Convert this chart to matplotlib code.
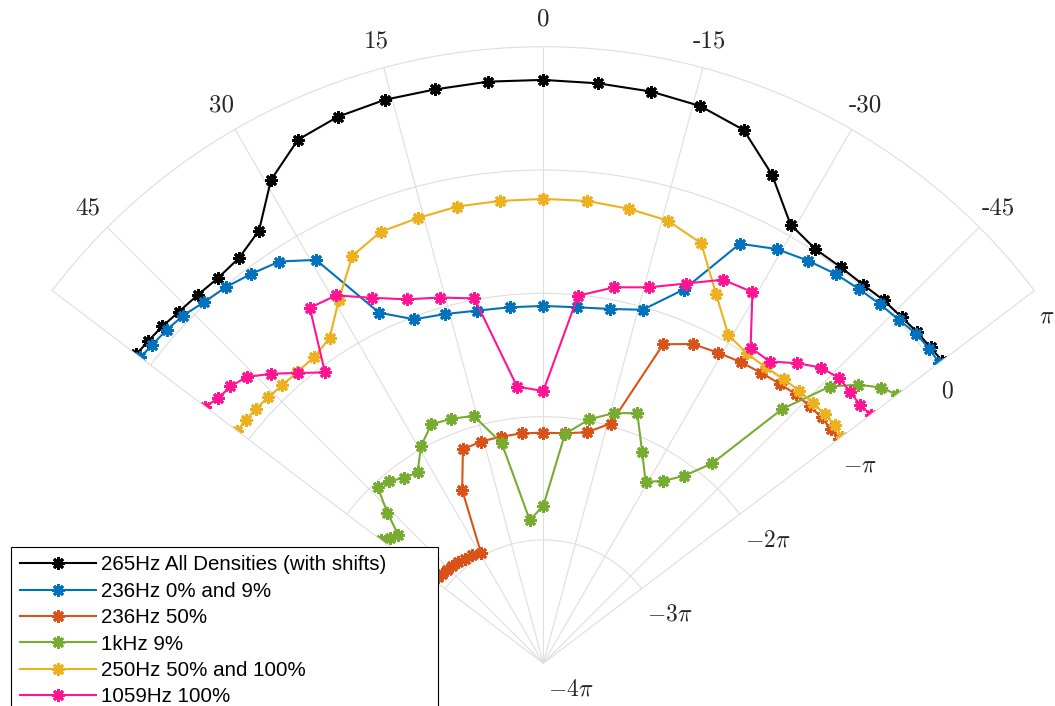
import numpy as np
import matplotlib.pyplot as plt
from matplotlib.transforms import offset_copy

plt.rcParams['mathtext.fontset'] = 'cm'
plt.rcParams['axes.unicode_minus'] = False

# Ángulos de medida (grados), de izquierda a derecha
angulos = [52.8, 50.8, 48.5, 46.0, 43.2, 40.2, 36.9, 33.3, 29.4, 25.1, 20.6, 15.7, 10.7, 5.4, 0.0,
           -5.4, -10.7, -15.7, -20.6, -25.1, -29.4, -33.3, -36.9, -40.2, -43.2, -46.0, -48.5, -50.8, -52.8]

# Fases (en múltiplos de pi)
fase_265 = [0.143, 0.135, 0.124, 0.106, 0.096, 0.089, 0.110, 0.199, 0.499, 0.689, 0.735, 0.747, 0.736, 0.738,
            0.731, 0.724, 0.718, 0.695, 0.620, 0.374, 0.084, 0.019, 0.017, 0.019, 0.036, 0.040, 0.050, 0.052, 0.060]
fase_236_0_9 = [0.102, 0.090, 0.079, 0.060, 0.018, -0.008, -0.052, -0.102, -0.245, -0.860, -1.020, -1.058, -1.090,
                -1.100, -1.102, -1.100, -1.076, -1.022, -0.762, -0.243, -0.144, -0.093, -0.052, -0.029, -0.008,
                0.009, 0.035, 0.038, 0.030]
fase_236_50 = [-2.889, -2.897, -2.905, -2.913, -2.921, -2.929, -2.938, -2.950, -2.970, -2.449, -2.147, -2.132,
               -2.131, -2.127, -2.130, -2.127, -2.093, -1.981, -1.236, -1.141, -1.110, -1.079, -1.056, -1.031,
               -1.008, -0.998, -0.987, -0.994, -0.993]
fase_1k_9 = [-2.349, -2.393, -2.430, -2.242, -2.037, -2.063, -2.123, -2.144, -1.979, -1.860, -1.882, -1.916,
             -2.184, -2.833, -2.724, -2.132, -1.986, -1.893, -1.833, -2.110, -2.310, -2.232, -2.100, -1.877,
             -1.172, -0.769, -0.590, -0.463, -0.398]
fase_250 = [-0.884, -0.884, -0.887, -0.896, -0.908, -0.908, -0.899, -0.844, -0.620, -0.350, -0.260, -0.249,
            -0.231, -0.234, -0.234, -0.234, -0.250, -0.271, -0.361, -0.695, -0.944, -0.993, -0.998, -0.981,
            -0.969, -0.960, -0.951, -0.949, -0.961]
fase_1059 = [-0.558, -0.599, -0.612, -0.657, -0.779, -0.917, -1.051, -0.551, -0.576, -0.727, -0.847, -0.919,
             -0.989, -1.747, -1.792, -1.006, -0.897, -0.833, -0.710, -0.565, -0.545, -0.938, -0.940, -0.814,
             -0.710, -0.669, -0.677, -0.685, -0.667]

etiquetas = ['265Hz All Densities (with shifts)', '236Hz 0% and 9%', '236Hz 50%',
             '1kHz 9%', '250Hz 50% and 100%', '1059Hz 100%']
colores = ['#000000', '#0072BD', '#D95319', '#77AC30', '#EDB120', '#FF1493']
series = [fase_265, fase_236_0_9, fase_236_50, fase_1k_9, fase_250, fase_1059]

theta_marcas = [-45, -30, -15, 0, 15, 30, 45]
theta_textos = ['-45', '-30', '-15', '0', '15', '30', '45']
r_marcas = [-4, -3, -2, -1, 0, 1]
r_textos = [r'$-4\pi$', r'$-3\pi$', r'$-2\pi$', r'$-\pi$', r'$0$', r'$\pi$']

gris = '#DEDEDE'
lim = 52.8

fig = plt.figure(figsize=(10.55, 7.06), dpi=100)
# caja cuadrada: la cuña (ancho 982 px) queda centrada en ella
lado = 982.2
ax = fig.add_axes([52.2 / 1055, (706 - 355 - lado / 2) / 706, lado / 1055, lado / 706], projection='polar')
ax.set_theta_zero_location('N')
ax.set_thetamin(-lim)
ax.set_thetamax(lim)
ax.set_rlim(-4 * np.pi, np.pi)

th = np.deg2rad(angulos)
for fase, col, lab in zip(series, colores, etiquetas):
    ax.plot(th, np.array(fase) * np.pi, color=col, lw=1.5, marker=(8, 2, 0), ms=9, mew=2.0, label=lab)

ax.set_thetagrids(theta_marcas, labels=theta_textos, fontsize=18, fontfamily='cmr10', color='#262626')
ax.set_rgrids([v * np.pi for v in r_marcas[1:-1]], labels=[''] * (len(r_marcas) - 2))
ax.tick_params(axis='x', pad=12.5, length=0)
ax.tick_params(axis='y', length=0)
ax.grid(True, color=gris, lw=0.8)
for s in ax.spines.values():
    s.set_color(gris)
    s.set_linewidth(0.8)

# etiquetas radiales junto al borde derecho
off = offset_copy(ax.transData, fig=fig, x=5, y=-32, units='dots')
for v, t in zip(r_marcas, r_textos):
    ax.text(np.deg2rad(-lim), v * np.pi, t, transform=off, ha='left', va='baseline',
            fontsize=17, color='#262626', clip_on=False)

leg = ax.legend(loc='upper left', bbox_to_anchor=(11 / 1055, 0, 426.7 / 1055, 1 - 546.7 / 706),
                bbox_transform=fig.transFigure, mode='expand', borderaxespad=0,
                prop={'family': 'Liberation Sans', 'size': 14.8}, fancybox=False, edgecolor='k',
                framealpha=1, handlelength=3.7, handletextpad=0.25, labelspacing=0.36, borderpad=0.42)
leg.get_frame().set_linewidth(0.8)

fig.savefig('out.png', dpi=100)
